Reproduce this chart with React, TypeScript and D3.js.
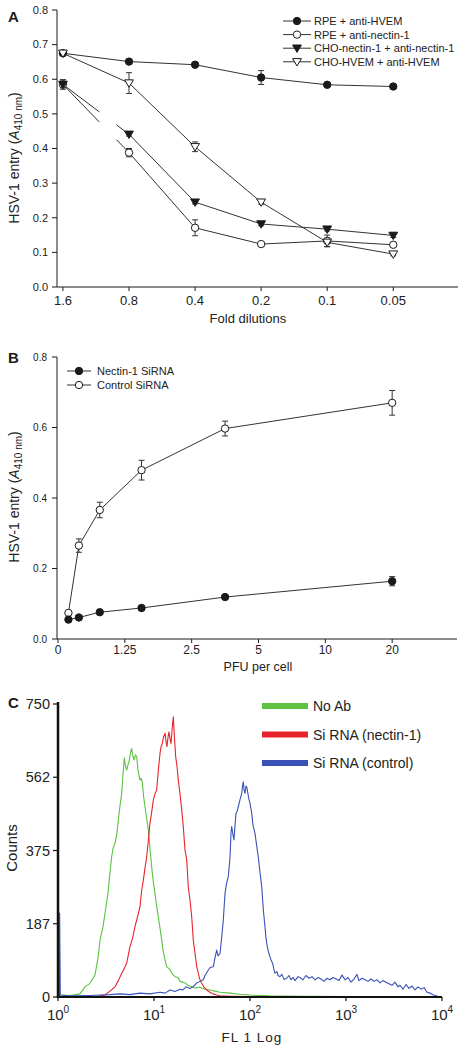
import React from "react";
import * as d3 from "d3";

// ---------- Panel A data ----------
const dilutionLabels = ["1.6", "0.8", "0.4", "0.2", "0.1", "0.05"];
const rpeHvem = [0.675, 0.651, 0.642, 0.605, 0.584, 0.579];
const rpeHvemErr = [0.004, 0.005, 0.004, 0.02, 0.004, 0.006];
const rpeNectin = [0.585, 0.388, 0.171, 0.124, 0.133, 0.122];
const rpeNectinErr = [0.014, 0.012, 0.023, 0.004, 0.017, 0.005];
const choNectin = [0.585, 0.441, 0.245, 0.182, 0.167, 0.149];
const choNectinErr = [0.01, 0.005, 0.005, 0.005, 0.005, 0.006];
const choHvem = [0.675, 0.589, 0.405, 0.245, 0.129, 0.095];
const choHvemErr = [0.005, 0.03, 0.014, 0.006, 0.012, 0.005];
const yTicksA = [0, 0.1, 0.2, 0.3, 0.4, 0.5, 0.6, 0.7, 0.8];

// ---------- Panel B data ----------
const pfuTickLabels = ["0", "1.25", "2.5", "5", "10", "20"];
const pfuPos = [0.156, 0.3125, 0.625, 1.25, 2.5, 5];
const nectinSi = [0.055, 0.061, 0.076, 0.088, 0.119, 0.164];
const nectinSiErr = [0.004, 0.004, 0.004, 0.004, 0.006, 0.013];
const controlSi = [0.074, 0.265, 0.366, 0.479, 0.597, 0.67];
const controlSiErr = [0.004, 0.019, 0.022, 0.028, 0.021, 0.035];
const yTicksB = [0, 0.2, 0.4, 0.6, 0.8];

// ---------- Panel C data (log10 FL1, counts) ----------
const noAb: [number, number][] = [
  [0.005, 30], [0.021, 5], [0.125, 4], [0.229, 8], [0.281, 26], [0.333, 35], [0.385, 56], [0.417, 100],
  [0.438, 146], [0.469, 180], [0.49, 215], [0.521, 266], [0.542, 320], [0.559, 359], [0.573, 380],
  [0.594, 394], [0.615, 420], [0.628, 453], [0.646, 490], [0.664, 522], [0.677, 570], [0.691, 612],
  [0.703, 590], [0.716, 581], [0.729, 595], [0.74, 602], [0.755, 625], [0.768, 636], [0.781, 615],
  [0.792, 607], [0.807, 620], [0.82, 615], [0.833, 580], [0.854, 555], [0.865, 560], [0.878, 551],
  [0.891, 515], [0.906, 487], [0.922, 460], [0.941, 427], [0.958, 380], [0.976, 333], [0.99, 300],
  [1.01, 266], [1.026, 235], [1.045, 205], [1.063, 175], [1.08, 146], [1.094, 120], [1.115, 95],
  [1.132, 78], [1.167, 70], [1.188, 60], [1.219, 52], [1.25, 50], [1.271, 40], [1.302, 38],
  [1.323, 36], [1.354, 30], [1.375, 28], [1.427, 23], [1.479, 25], [1.531, 20], [1.583, 18],
  [1.635, 15], [1.688, 12], [1.792, 10], [1.896, 7], [2.0, 5], [2.208, 3], [2.521, 2], [3.042, 1], [3.979, 0],
];
const siNectin: [number, number][] = [
  [0, 0], [0.333, 0], [0.417, 2], [0.49, 5], [0.542, 15], [0.594, 26], [0.625, 40], [0.664, 61],
  [0.688, 72], [0.716, 87], [0.734, 110], [0.75, 129], [0.776, 150], [0.802, 180], [0.828, 205],
  [0.854, 231], [0.87, 270], [0.889, 299], [0.906, 330], [0.924, 359], [0.941, 400], [0.958, 445],
  [0.974, 470], [0.993, 504], [1.01, 520], [1.028, 530], [1.045, 580], [1.063, 624], [1.073, 640],
  [1.086, 649], [1.099, 665], [1.115, 675], [1.125, 655], [1.135, 641], [1.146, 665], [1.156, 679],
  [1.167, 660], [1.177, 649], [1.19, 690], [1.201, 717], [1.214, 660], [1.226, 615], [1.24, 590],
  [1.253, 555], [1.271, 520], [1.289, 479], [1.305, 436], [1.323, 376], [1.341, 351], [1.357, 282],
  [1.375, 248], [1.393, 205], [1.409, 146], [1.427, 112], [1.445, 78], [1.461, 61], [1.479, 44],
  [1.497, 35], [1.521, 25], [1.549, 18], [1.583, 12], [1.615, 8], [1.653, 5], [1.688, 3], [1.792, 2],
  [2.0, 1], [2.521, 0], [3.979, 0],
];
const siControl: [number, number][] = [
  [0.016, 0], [0.017, 215], [0.024, 5], [0.125, 3], [0.333, 4], [0.542, 6], [0.646, 8], [0.75, 6], [0.854, 10],
  [0.958, 8], [1.063, 12], [1.115, 10], [1.167, 18], [1.219, 14], [1.271, 20], [1.302, 18],
  [1.333, 26], [1.375, 22], [1.406, 26], [1.445, 36], [1.479, 40], [1.514, 44], [1.531, 55],
  [1.566, 69], [1.583, 75], [1.618, 78], [1.635, 100], [1.653, 120], [1.667, 105], [1.688, 112],
  [1.708, 160], [1.722, 197], [1.74, 266], [1.755, 290], [1.774, 308], [1.792, 359], [1.802, 420],
  [1.809, 436], [1.823, 415], [1.833, 402], [1.844, 440], [1.854, 470], [1.865, 475], [1.878, 487],
  [1.896, 505], [1.914, 521], [1.922, 540], [1.93, 551], [1.938, 530], [1.948, 521], [1.958, 540],
  [1.966, 538], [1.979, 520], [1.99, 505], [2.0, 496], [2.018, 470], [2.031, 440], [2.052, 419],
  [2.068, 390], [2.086, 359], [2.104, 320], [2.122, 282], [2.139, 223], [2.156, 180], [2.167, 150],
  [2.18, 129], [2.193, 115], [2.208, 103], [2.219, 95], [2.236, 86], [2.25, 70], [2.26, 61],
  [2.281, 65], [2.292, 55], [2.313, 52], [2.333, 58], [2.354, 45], [2.382, 48], [2.406, 55],
  [2.427, 44], [2.448, 50], [2.469, 42], [2.5, 52], [2.521, 50], [2.552, 44], [2.583, 55],
  [2.615, 48], [2.646, 52], [2.677, 44], [2.708, 50], [2.74, 46], [2.771, 40], [2.802, 48],
  [2.833, 44], [2.865, 50], [2.896, 46], [2.927, 42], [2.958, 56], [2.99, 44], [3.021, 50],
  [3.052, 38], [3.083, 46], [3.115, 58], [3.135, 42], [3.167, 48], [3.198, 44], [3.229, 40],
  [3.26, 46], [3.292, 40], [3.323, 44], [3.354, 36], [3.385, 42], [3.417, 38], [3.448, 34],
  [3.479, 30], [3.51, 38], [3.542, 26], [3.563, 30], [3.594, 20], [3.625, 32], [3.656, 22],
  [3.688, 28], [3.719, 18], [3.75, 26], [3.781, 20], [3.813, 24], [3.844, 12], [3.875, 10],
  [3.906, 6], [3.938, 3], [3.958, 1], [4.0, 0],
];
const yTicksC = [0, 187.5, 375, 562.5, 750];
const yTickLabelsC = ["0", "187", "375", "562", "750"];
const xTicksC = [0, 1, 2, 3, 4];

const legendA = ["RPE + anti-HVEM", "RPE + anti-nectin-1", "CHO-nectin-1 + anti-nectin-1", "CHO-HVEM + anti-HVEM"];
const legendB = ["Nectin-1 SiRNA", "Control SiRNA"];
const legendC = ["No Ab", "Si RNA (nectin-1)", "Si RNA (control)"];
const colorsC = ["#5cc23f", "#e8232b", "#3a52b6"];

const FONT = "'Liberation Sans', Arial, Helvetica, sans-serif";
const LINE = "#333";
const INK = "#1a1a1a";

type MarkerKind = "filledCircle" | "openCircle" | "filledTri" | "openTri";

function Marker({ kind, x, y }: { kind: MarkerKind; x: number; y: number }) {
  const fill = kind.startsWith("filled") ? INK : "#fff";
  if (kind.endsWith("Circle")) {
    return <circle cx={x} cy={y} r={3.7} fill={fill} stroke={INK} strokeWidth={1} />;
  }
  return (
    <path
      d={`M${x - 4.4},${y - 3.2}L${x + 4.4},${y - 3.2}L${x},${y + 4.2}Z`}
      fill={fill}
      stroke={INK}
      strokeWidth={1}
    />
  );
}

function ErrBar({ x, y0, y1 }: { x: number; y0: number; y1: number }) {
  return (
    <g stroke={LINE} strokeWidth={1}>
      <line x1={x} x2={x} y1={y0} y2={y1} />
      <line x1={x - 3} x2={x + 3} y1={y0} y2={y0} />
      <line x1={x - 3} x2={x + 3} y1={y1} y2={y1} />
    </g>
  );
}

function PanelA() {
  const x = d3.scaleLinear().domain([-0.09, 5.98]).range([57, 458]);
  const y = d3.scaleLinear().domain([0, 0.8]).range([287, 10]);
  const series: { vals: number[]; err: number[]; kind: MarkerKind; broken: boolean }[] = [
    { vals: rpeHvem, err: rpeHvemErr, kind: "filledCircle", broken: false },
    { vals: rpeNectin, err: rpeNectinErr, kind: "openCircle", broken: true },
    { vals: choNectin, err: choNectinErr, kind: "filledTri", broken: true },
    { vals: choHvem, err: choHvemErr, kind: "openTri", broken: false },
  ];
  const gap = [0.55, 0.81];
  const line = d3
    .line<[number, number]>()
    .x((d) => x(d[0]))
    .y((d) => y(d[1]));
  const paths: string[] = [];
  series.forEach((s) => {
    const pts: [number, number][] = s.vals.map((v, i) => [i, v]);
    if (!s.broken) {
      paths.push(line(pts) as string);
    } else {
      const interp = (t: number): [number, number] => [t, s.vals[0] + (s.vals[1] - s.vals[0]) * t];
      paths.push(line([pts[0], interp(gap[0])]) as string);
      paths.push(line([interp(gap[1]), ...pts.slice(1)]) as string);
    }
  });
  return (
    <g fontFamily={FONT}>
      <text x={8} y={22} fontSize={15} fontWeight="bold" fill={INK}>A</text>
      <line x1={57} x2={57} y1={y(0.8)} y2={y(0)} stroke={INK} strokeWidth={1} />
      <line x1={57} x2={458} y1={y(0)} y2={y(0)} stroke={INK} strokeWidth={1} />
      {yTicksA.map((t) => (
        <g key={t}>
          <line x1={52} x2={57} y1={y(t)} y2={y(t)} stroke={INK} />
          <text x={48} y={y(t) + 3.8} fontSize={11} textAnchor="end" fill="#222">{t.toFixed(1)}</text>
        </g>
      ))}
      {dilutionLabels.map((l, i) => (
        <g key={l}>
          <line x1={x(i)} x2={x(i)} y1={y(0)} y2={y(0) + 4} stroke={INK} />
          <text x={x(i)} y={305} fontSize={13} textAnchor="middle" fill="#222">{l}</text>
        </g>
      ))}
      <text x={x(2.8)} y={323} fontSize={13} textAnchor="middle" fill="#222">Fold dilutions</text>
      <text transform="translate(19,158) rotate(-90)" fontSize={14} textAnchor="middle" fill="#222">
        HSV-1 entry (<tspan fontStyle="italic">A</tspan>
        <tspan dy={3} fontSize={10}>410 nm</tspan>
        <tspan dy={-3}>)</tspan>
      </text>
      {paths.map((p, i) => (
        <path key={i} d={p} fill="none" stroke={LINE} strokeWidth={1} />
      ))}
      {series.map((s, si) =>
        s.vals.map((v, i) => (
          <ErrBar key={`e${si}-${i}`} x={x(i)} y0={y(v - s.err[i])} y1={y(v + s.err[i])} />
        ))
      )}
      {series.map((s, si) =>
        s.vals.map((v, i) => <Marker key={`m${si}-${i}`} kind={s.kind} x={x(i)} y={y(v)} />)
      )}
      {legendA.map((l, i) => {
        const ly = 21 + 13.6 * i;
        return (
          <g key={l}>
            <line x1={283} x2={311} y1={ly} y2={ly} stroke={LINE} />
            <Marker kind={series[i].kind} x={297} y={ly} />
            <text x={314} y={ly + 4} fontSize={11} fill="#222">{l}</text>
          </g>
        );
      })}
    </g>
  );
}

function PanelB() {
  const x = d3.scaleLinear().domain([0, 5.97]).range([58, 457]);
  const y = d3.scaleLinear().domain([0, 0.8]).range([639, 357]);
  const series: { vals: number[]; err: number[]; kind: MarkerKind }[] = [
    { vals: nectinSi, err: nectinSiErr, kind: "filledCircle" },
    { vals: controlSi, err: controlSiErr, kind: "openCircle" },
  ];
  const line = d3
    .line<number>()
    .x((_, i) => x(pfuPos[i]))
    .y((d) => y(d));
  const drawOrder = [1, 0];
  return (
    <g fontFamily={FONT}>
      <text x={8} y={363} fontSize={15} fontWeight="bold" fill={INK}>B</text>
      <line x1={57} x2={57} y1={y(0.8)} y2={y(0)} stroke={INK} />
      <line x1={57} x2={457} y1={y(0)} y2={y(0)} stroke={INK} />
      {yTicksB.map((t) => (
        <g key={t}>
          <line x1={52} x2={57} y1={y(t)} y2={y(t)} stroke={INK} />
          <text x={47} y={y(t) + 3.5} fontSize={10} textAnchor="end" fill="#222">{t.toFixed(1)}</text>
        </g>
      ))}
      {pfuTickLabels.map((l, i) => (
        <g key={l}>
          <line x1={x(i)} x2={x(i)} y1={y(0)} y2={y(0) + 4} stroke={INK} />
          <text x={x(i)} y={654} fontSize={12} textAnchor="middle" fill="#222">{l}</text>
        </g>
      ))}
      <text x={258} y={671} fontSize={12.5} textAnchor="middle" fill="#222">PFU per cell</text>
      <text transform="translate(19,497) rotate(-90)" fontSize={14} textAnchor="middle" fill="#222">
        HSV-1 entry (<tspan fontStyle="italic">A</tspan>
        <tspan dy={3} fontSize={10}>410 nm</tspan>
        <tspan dy={-3}>)</tspan>
      </text>
      {drawOrder.map((si) => (
        <path key={`l${si}`} d={line(series[si].vals) as string} fill="none" stroke={LINE} />
      ))}
      {drawOrder.map((si) =>
        series[si].vals.map((v, i) => (
          <ErrBar key={`e${si}-${i}`} x={x(pfuPos[i])} y0={y(v - series[si].err[i])} y1={y(v + series[si].err[i])} />
        ))
      )}
      {drawOrder.map((si) =>
        series[si].vals.map((v, i) => (
          <Marker key={`m${si}-${i}`} kind={series[si].kind} x={x(pfuPos[i])} y={y(v)} />
        ))
      )}
      {legendB.map((l, i) => {
        const ly = 371 + 14 * i;
        return (
          <g key={l}>
            <line x1={67} x2={91} y1={ly} y2={ly} stroke={LINE} />
            <Marker kind={series[i].kind} x={79} y={ly} />
            <text x={97} y={ly + 4} fontSize={11} fill="#222">{l}</text>
          </g>
        );
      })}
    </g>
  );
}

function PanelC() {
  const x = d3.scaleLinear().domain([0, 4]).range([58, 442]);
  const y = d3.scaleLinear().domain([0, 750]).range([997, 704]);
  const line = d3
    .line<[number, number]>()
    .x((d) => x(d[0]))
    .y((d) => y(d[1]));
  const hists = [noAb, siNectin, siControl];
  return (
    <g fontFamily={FONT}>
      <text x={8} y={708} fontSize={15} fontWeight="bold" fill={INK}>C</text>
      {hists.map((h, i) => (
        <path key={i} d={line(h) as string} fill="none" stroke={colorsC[i]} strokeWidth={1.1} strokeLinejoin="round" />
      ))}
      <line x1={58} x2={58} y1={y(750) - 2} y2={y(0) + 1} stroke="#111" strokeWidth={2.5} />
      <line x1={57} x2={442} y1={y(0)} y2={y(0)} stroke="#111" strokeWidth={2} />
      {yTicksC.map((t, i) => (
        <g key={t}>
          <line x1={53} x2={58} y1={y(t)} y2={y(t)} stroke="#111" strokeWidth={1.2} />
          <text x={50} y={y(t) + 5} fontSize={14.5} textAnchor="end" fill="#222">{yTickLabelsC[i]}</text>
        </g>
      ))}
      {xTicksC.map((t) => (
        <g key={t}>
          <line x1={x(t)} x2={x(t)} y1={y(0)} y2={y(0) + 4} stroke="#111" strokeWidth={1.2} />
          <text x={x(t)} y={1020} fontSize={15} textAnchor="middle" fill="#222">
            10<tspan dy={-7} fontSize={10}>{t}</tspan>
          </text>
        </g>
      ))}
      <text x={252} y={1042} fontSize={13.5} letterSpacing={1} textAnchor="middle" fill="#222">FL 1 Log</text>
      <text transform="translate(17,848) rotate(-90)" fontSize={15} textAnchor="middle" fill="#222">Counts</text>
      {legendC.map((l, i) => {
        const ly = 706 + 28.5 * i;
        return (
          <g key={l}>
            <line x1={262} x2={308} y1={ly} y2={ly} stroke={colorsC[i]} strokeWidth={6} />
            <text x={313} y={ly + 5} fontSize={14} fill="#222">{l}</text>
          </g>
        );
      })}
    </g>
  );
}

export default function App() {
  return (
    <svg
      width={464}
      height={1050}
      viewBox="0 0 464 1050"
      style={{ position: "absolute", left: 0, top: 0, background: "#fff" }}
    >
      <rect width={464} height={1050} fill="#fff" />
      <PanelA />
      <PanelB />
      <PanelC />
    </svg>
  );
}
